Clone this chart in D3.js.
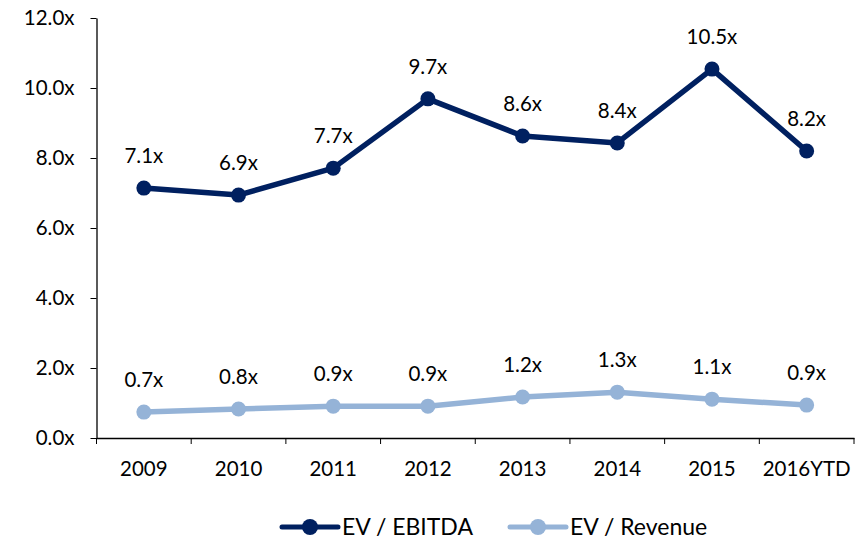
<!DOCTYPE html>
<html><head><meta charset="utf-8">
<script src="https://cdn.jsdelivr.net/npm/d3@7"></script>
<style>body{margin:0;background:#fff}svg{display:block}text{font-family:Lato,"Open Sans",sans-serif;fill:#000}</style>
</head><body>
<svg id="c" width="864" height="540"></svg>
<script>
const categories = ["2009","2010","2011","2012","2013","2014","2015","2016YTD"];
const evEbitda = [7.1, 6.9, 7.7, 9.7, 8.6, 8.4, 10.5, 8.2];
const evRevenue = [0.7, 0.8, 0.9, 0.9, 1.2, 1.3, 1.1, 0.9];
const evEbitdaPlot = [7.14, 6.94, 7.71, 9.69, 8.63, 8.43, 10.54, 8.2];
const evRevenuePlot = [0.74, 0.83, 0.91, 0.91, 1.17, 1.31, 1.11, 0.94];
const yTicks = [0, 2, 4, 6, 8, 10, 12];
const seriesNames = ["EV / EBITDA", "EV / Revenue"];
const colors = ["#002060", "#95B3D7"];

(function(){
const svg = d3.select("#c");
const pl = 96.5, pr = 854, pt = 18, pb = 438;
const x = d3.scaleBand().domain(categories).range([pl, pr]);
const y = d3.scaleLinear().domain([0, 12]).range([pb, pt]);
const fs = 20.5, lfs = 23;

const yAxis = svg.append("g").attr("transform", `translate(${pl},0)`)
  .call(d3.axisLeft(y).tickValues(yTicks).tickFormat(d => d.toFixed(1) + "x").tickSize(6).tickSizeOuter(0));
yAxis.selectAll("text").attr("font-size", fs).attr("x", -22);
const xAxis = svg.append("g").attr("transform", `translate(0,${pb})`)
  .call(d3.axisBottom(x).tickSize(0).tickSizeOuter(0));
xAxis.selectAll("text").attr("font-size", fs).attr("dy", "0").attr("y", 38);
const bounds = categories.map(c => x(c)).concat([pr]);
xAxis.selectAll(".bt").data(bounds).enter().append("line").attr("class","bt")
  .attr("x1", d => d).attr("x2", d => d).attr("y1", 0).attr("y2", 6).attr("stroke", "#000");
svg.selectAll(".domain").attr("stroke", "#000").attr("stroke-width", 1.3);
svg.selectAll(".tick line").attr("stroke", "#000");
svg.selectAll("g text").attr("font-family", "Lato,'Open Sans',sans-serif").attr("fill", "#000");

const cx = c => x(c) + x.bandwidth() / 2;
const series = [
  {vals: evEbitdaPlot, labels: evEbitda, color: colors[0]},
  {vals: evRevenuePlot, labels: evRevenue, color: colors[1]}
];
series.forEach(s => {
  const line = d3.line().x((d, i) => cx(categories[i])).y(d => y(d));
  svg.append("path").attr("d", line(s.vals)).attr("fill", "none")
    .attr("stroke", s.color).attr("stroke-width", 5.5).attr("stroke-linejoin", "round");
  svg.selectAll(null).data(s.vals).enter().append("circle")
    .attr("cx", (d, i) => cx(categories[i])).attr("cy", d => y(d)).attr("r", 7.5).attr("fill", s.color);
  svg.selectAll(null).data(s.vals).enter().append("text")
    .attr("x", (d, i) => cx(categories[i])).attr("y", d => y(d) - 25)
    .attr("text-anchor", "middle").attr("font-size", fs)
    .text((d, i) => s.labels[i].toFixed(1) + "x");
});

const legY = 527;
const legItems = [{x0: 282, name: seriesNames[0], color: colors[0]}, {x0: 510, name: seriesNames[1], color: colors[1]}];
legItems.forEach(l => {
  svg.append("line").attr("x1", l.x0).attr("x2", l.x0 + 56).attr("y1", legY).attr("y2", legY)
    .attr("stroke", l.color).attr("stroke-width", 5).attr("stroke-linecap", "round");
  svg.append("circle").attr("cx", l.x0 + 28).attr("cy", legY).attr("r", 8).attr("fill", l.color);
  svg.append("text").attr("x", l.x0 + 60).attr("y", legY + 8).attr("font-size", lfs).text(l.name);
});
})();
</script>
</body></html>
